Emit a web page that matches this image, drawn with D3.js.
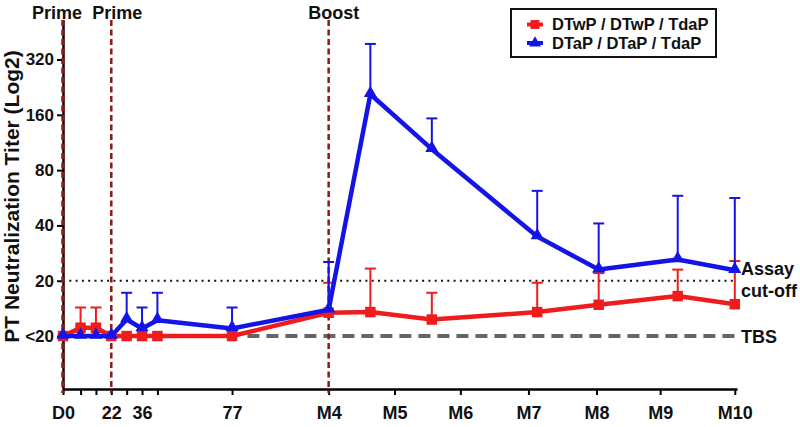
<!DOCTYPE html>
<html>
<head>
<meta charset="utf-8">
<script src="https://cdn.jsdelivr.net/npm/d3@7"></script>
<style>
  body { margin: 0; background: #fff; }
  svg { display: block; font-family: "Liberation Sans", Arial, sans-serif; font-weight: bold; }
</style>
</head>
<body>
<svg class="chart"></svg>
<script>
// sampling days (D0 = day 0, months converted to days)
const days = [0, 8, 15, 22, 29, 36, 43, 77, 121, 140, 168, 216, 244, 280, 306];

// DTwP / DTwP / TdaP group (geometric mean titer and upper error)
const dtwpValues = [10, 11.1, 11.1, 10, 10, 10, 10, 10, 13.4, 13.5, 12.3, 13.5, 14.8, 16.5, 14.9];
const dtwpUpper = [null, 14.3, 14.3, null, null, null, null, null, 19.5, 23.3, 17.2, 19.5, 22, 23, 25.6];

// DTaP / DTaP / TdaP group
const dtapValues = [10, 10, 10, 10, 12.3, 11.0, 12.2, 11.0, 13.9, 207, 104, 34.8, 23, 26.1, 22.8];
const dtapUpper = [null, null, null, null, 17.2, 14.3, 17.2, 14.3, 25.3, 389, 153, 61.7, 41, 58, 56.4];

// axis ticks
const xTickDays = [0, 8, 15, 22, 29, 36, 43, 77, 121, 151, 181, 212, 243, 272, 306];
const xTickLabels = ['D0', '', '', '22', '', '36', '', '77', 'M4', 'M5', 'M6', 'M7', 'M8', 'M9', 'M10'];
const yTickValues = [10, 20, 40, 80, 160, 320];
const yTickLabels = ['<20', '20', '40', '80', '160', '320'];

// vaccination events
const eventDays = [0, 22, 121];
const eventLabels = ['Prime', 'Prime', 'Boost'];

// reference lines
const cutoff = 20;
const tbsLevel = 10;
const tbsStart = 84;

const series = [
    {name: 'DTwP / DTwP / TdaP', values: dtwpValues, upper: dtwpUpper, color: '#ee1c1c', symbol: d3.symbolSquare},
    {name: 'DTaP / DTaP / TdaP', values: dtapValues, upper: dtapUpper, color: '#1414e6', symbol: d3.symbolTriangle},
];

const width = 800;
const height = 427;
const marginLeft = 63;
const marginTop = 20;
const plotRight = 737;
const plotBottom = 389;

const xScale = d3.scaleLinear([0, 307], [marginLeft, plotRight]);
const yScale = d3.scaleLog([5.15, 525], [plotBottom, marginTop]).base(2);

const svg = d3.select('.chart')
    .attr('width', width)
    .attr('height', height)
    .attr('viewBox', [0, 0, width, height]);

// x axis
svg.append('g')
    .attr('transform', `translate(0,${plotBottom})`)
    .call(d3.axisBottom(xScale)
        .tickValues(xTickDays)
        .tickFormat((d, i) => xTickLabels[i])
        .tickSize(6)
        .tickSizeOuter(0)
        .tickPadding(11))
    .call(g => g.select('.domain').attr('stroke-width', 2.5))
    .call(g => g.selectAll('.tick line').attr('stroke-width', 2))
    .call(g => g.selectAll('.tick text')
        .attr('font-size', 18)
        .attr('font-family', '"Liberation Sans", Arial, sans-serif')
        .attr('font-weight', 'bold')
        .attr('fill', '#111'));

// y axis
svg.append('g')
    .attr('transform', `translate(${marginLeft},0)`)
    .call(d3.axisLeft(yScale)
        .tickValues(yTickValues)
        .tickFormat((d, i) => yTickLabels[i])
        .tickSize(6)
        .tickSizeOuter(0)
        .tickPadding(3))
    .call(g => g.select('.domain').attr('stroke-width', 2.5))
    .call(g => g.selectAll('.tick line').attr('stroke-width', 2))
    .call(g => g.selectAll('.tick text')
        .attr('font-size', 17)
        .attr('font-family', '"Liberation Sans", Arial, sans-serif')
        .attr('font-weight', 'bold')
        .attr('fill', '#111'));

svg.append('text')
    .attr('transform', `translate(19,${(48 + 345) / 2}) rotate(-90)`)
    .attr('text-anchor', 'middle')
    .attr('font-size', 21)
    .attr('fill', '#111')
    .text('PT Neutralization Titer (Log2)');

// assay cut-off (dotted) and TBS (dashed)
svg.append('line')
    .attr('x1', xScale(0)).attr('x2', plotRight)
    .attr('y1', yScale(cutoff)).attr('y2', yScale(cutoff))
    .attr('stroke', '#111')
    .attr('stroke-width', 2)
    .attr('stroke-dasharray', '2,4.3');

svg.append('line')
    .attr('x1', xScale(tbsStart)).attr('x2', plotRight)
    .attr('y1', yScale(tbsLevel)).attr('y2', yScale(tbsLevel))
    .attr('stroke', '#666')
    .attr('stroke-width', 4)
    .attr('stroke-dasharray', '12,7');

svg.append('text')
    .attr('x', 741).attr('y', 275)
    .attr('font-size', 18).attr('fill', '#111')
    .text('Assay');
svg.append('text')
    .attr('x', 741).attr('y', 297)
    .attr('font-size', 18).attr('fill', '#111')
    .text('cut-off');
svg.append('text')
    .attr('x', 741).attr('y', yScale(tbsLevel) + 6.5)
    .attr('font-size', 18).attr('fill', '#111')
    .text('TBS');

// vaccination markers
svg.append('g')
    .selectAll('line')
    .data(eventDays)
    .join('line')
        .attr('x1', d => xScale(d)).attr('x2', d => xScale(d))
        .attr('y1', marginTop).attr('y2', plotBottom + 4)
        .attr('stroke', '#8b1a1a')
        .attr('stroke-width', (d, i) => i === 0 ? 3.5 : 2.5)
        .attr('stroke-dasharray', '6,3.5');

svg.append('g')
    .selectAll('text')
    .data(eventDays)
    .join('text')
        .attr('x', (d, i) => xScale(d) + [-6, 6, 5][i])
        .attr('y', 19)
        .attr('text-anchor', 'middle')
        .attr('font-size', 18)
        .attr('fill', '#111')
        .text((d, i) => eventLabels[i]);

// series: error bars, line, markers
const line = d3.line()
    .x((d, i) => xScale(days[i]))
    .y(d => yScale(d));

series.forEach(s => {
    const g = svg.append('g');
    const bars = days.map((d, i) => ({day: d, v: s.values[i], u: s.upper[i]})).filter(d => d.u != null);

    g.selectAll('.bar')
        .data(bars)
        .join('line')
            .attr('x1', d => xScale(d.day)).attr('x2', d => xScale(d.day))
            .attr('y1', d => yScale(d.v)).attr('y2', d => yScale(d.u))
            .attr('stroke', s.color)
            .attr('stroke-width', 2);

    g.selectAll('.cap')
        .data(bars)
        .join('line')
            .attr('x1', d => xScale(d.day) - 5.5).attr('x2', d => xScale(d.day) + 5.5)
            .attr('y1', d => yScale(d.u)).attr('y2', d => yScale(d.u))
            .attr('stroke', s.color)
            .attr('stroke-width', 2);

    g.append('path')
        .attr('d', line(s.values))
        .attr('fill', 'none')
        .attr('stroke', s.color)
        .attr('stroke-width', 4.5)
        .attr('stroke-linejoin', 'round');

    g.selectAll('.pt')
        .data(s.values)
        .join('path')
            .attr('transform', (d, i) => `translate(${xScale(days[i])},${yScale(d) + (s.symbol === d3.symbolTriangle ? -1 : 0)})`)
            .attr('d', d3.symbol(s.symbol, s.symbol === d3.symbolTriangle ? 75 : 110))
            .attr('fill', s.color);
});

// legend
const legend = svg.append('g');
legend.append('rect')
    .attr('x', 511).attr('y', 9)
    .attr('width', 205).attr('height', 48)
    .attr('fill', '#fff')
    .attr('stroke', '#111')
    .attr('stroke-width', 2);

const legendRow = legend.selectAll('.row')
    .data(series)
    .join('g')
        .attr('transform', (d, i) => `translate(535,${24.5 + i * 18.5})`);

legendRow.append('line')
    .attr('x1', -8).attr('x2', 8)
    .attr('stroke', d => d.color)
    .attr('stroke-width', 4);

legendRow.append('path')
    .attr('d', d => d3.symbol(d.symbol, d.symbol === d3.symbolTriangle ? 60 : 80)())
    .attr('fill', d => d.color);

legendRow.append('text')
    .attr('x', 17)
    .attr('dy', '0.36em')
    .attr('font-size', 16.5)
    .attr('fill', '#111')
    .text(d => d.name);
</script>
</body>
</html>
